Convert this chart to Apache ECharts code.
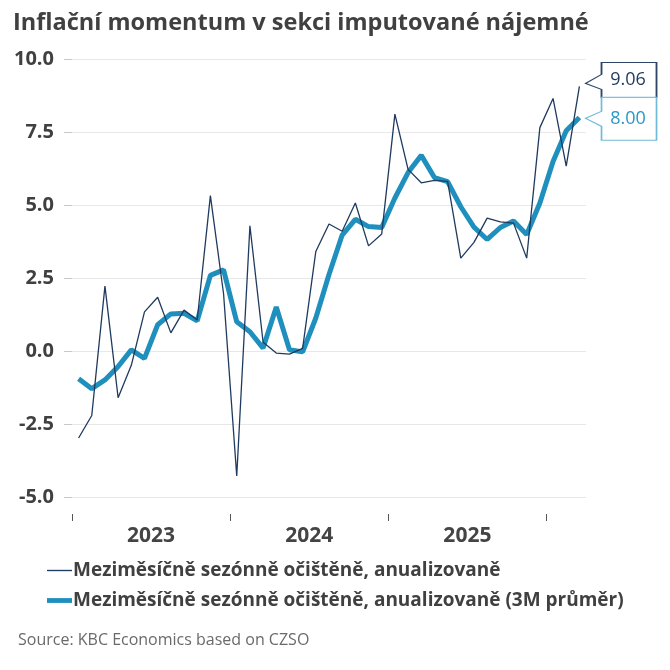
<!DOCTYPE html>
<html>
<head>
<meta charset="utf-8">
<script src="https://cdn.jsdelivr.net/npm/echarts@6/dist/echarts.min.js"></script>
<style>
  html, body { margin: 0; padding: 0; background: #fff; }
  #chart_01 { width: 670px; height: 670px; }
</style>
</head>
<body>
<div id="chart_01"></div>
<script>
// data - monthly, Jan 2023 .. Mar 2026
var months = [
    '2023-01','2023-02','2023-03','2023-04','2023-05','2023-06','2023-07','2023-08','2023-09','2023-10','2023-11','2023-12',
    '2024-01','2024-02','2024-03','2024-04','2024-05','2024-06','2024-07','2024-08','2024-09','2024-10','2024-11','2024-12',
    '2025-01','2025-02','2025-03','2025-04','2025-05','2025-06','2025-07','2025-08','2025-09','2025-10','2025-11','2025-12',
    '2026-01','2026-02','2026-03'
];
var monthly = [
    -2.98, -2.21, 2.22, -1.60, -0.49, 1.34, 1.84, 0.62, 1.40, 1.06, 5.32, 1.96,
    -4.28, 4.29, 0.30, -0.07, -0.11, 0.09, 3.41, 4.35, 4.10, 5.07, 3.60, 4.01,
    8.11, 6.22, 5.76, 5.84, 5.81, 3.18, 3.72, 4.55, 4.42, 4.38, 3.18, 7.65,
    8.65, 6.33, 9.06
];
var avg3m = [
    -0.95, -1.29, -0.99, -0.53, 0.04, -0.25, 0.90, 1.27, 1.29, 1.03, 2.59, 2.78,
    1.00, 0.66, 0.10, 1.51, 0.04, -0.03, 1.13, 2.62, 3.97, 4.51, 4.26, 4.23,
    5.24, 6.11, 6.70, 5.94, 5.80, 4.94, 4.24, 3.82, 4.23, 4.45, 3.99, 5.07,
    6.49, 7.54, 8.00
];
var yearLabels = ['2023', '2024', '2025'];
var yearStarts = [0, 12, 24, 36];

var seriesNames = [
    'Meziměsíčně sezónně očištěně, anualizovaně',
    'Meziměsíčně sezónně očištěně, anualizovaně (3M průměr)'
];

;(function (window) {

    var FONT = '"Open Sans", "Noto Sans", sans-serif';
    var NAVY = '#1f3a5f';
    var TEAL = '#1f90bd';
    var last = months.length - 1;

    var chart = echarts.init(document.getElementById('chart_01'));

    var options = {
        backgroundColor: '#fff',
        animation: false,
        title: [{
            text: 'Inflační momentum v sekci imputované nájemné',
            left: 8,
            top: 6,
            textStyle: { fontFamily: FONT, fontSize: 23.5, fontWeight: 'bold', color: '#404040' }
        }, {
            text: 'Source: KBC Economics based on CZSO',
            left: 13,
            top: 627,
            textStyle: { fontFamily: FONT, fontSize: 16, fontWeight: 'normal', color: '#6a6a6a' }
        }],
        legend: {
            orient: 'vertical',
            left: 42,
            top: 556,
            itemWidth: 25,
            itemHeight: 14,
            itemGap: 11,
            data: [
                { name: seriesNames[0], icon: 'path://M0,0L26,0L26,1.4L0,1.4Z' },
                { name: seriesNames[1], icon: 'path://M0,0L26,0L26,5L0,5Z' }
            ],
            textStyle: { fontFamily: FONT, fontSize: 19, fontWeight: 'bold', color: '#404040', padding: [0, 0, 0, -4] }
        },
        grid: { left: 72, right: 84, top: 59, bottom: 173 },
        xAxis: [{
            type: 'category',
            data: months,
            boundaryGap: true,
            axisLine: { show: false },
            axisTick: { show: false },
            axisLabel: { show: false },
            splitLine: { show: false }
        }, {
            // helper axis for year ticks and labels
            type: 'value',
            position: 'bottom',
            min: 0,
            max: months.length,
            offset: 17,
            axisLine: { show: false },
            axisTick: { show: true, customValues: yearStarts, length: 7, lineStyle: { color: '#555', width: 1 } },
            axisLabel: {
                customValues: yearStarts.slice(0, 3).map(function (v) { return v + 6; }),
                formatter: function (v) { return yearLabels[(v - 6) / 12]; },
                fontFamily: FONT, fontSize: 21, fontWeight: 'bold', color: '#444', margin: 12
            },
            splitLine: { show: false }
        }],
        yAxis: {
            type: 'value',
            min: -5,
            max: 10,
            interval: 2.5,
            axisLine: { show: false },
            axisTick: { show: true, length: 8, lineStyle: { color: '#c8c8c8' } },
            axisLabel: {
                formatter: function (v) { return v.toFixed(1); },
                fontFamily: FONT, fontSize: 20, fontWeight: 'bold', color: '#404040', margin: 18
            },
            splitLine: { lineStyle: { color: '#e8e8e8', width: 1 } }
        },
        series: [{
            name: seriesNames[0],
            type: 'line',
            data: monthly,
            symbol: 'none',
            clip: false,
            lineStyle: { color: NAVY, width: 1.3 },
            itemStyle: { color: NAVY },
            z: 3,
            markPoint: {
                symbol: 'path://M16,0L71,0L71,35L16,35L16,27L0,21L16,12Z',
                symbolSize: [71, 35],
                symbolOffset: [41.6, -6.5],
                itemStyle: { color: '#fff', borderColor: '#2e4566', borderWidth: 1.3 },
                label: {
                    show: true, position: 'inside', offset: [7, 0],
                    fontFamily: FONT, fontSize: 18, color: NAVY,
                    formatter: function (p) { return p.value.toFixed(2); }
                },
                data: [{ coord: [last, monthly[last]], value: monthly[last] }]
            }
        }, {
            name: seriesNames[1],
            type: 'line',
            data: avg3m,
            symbol: 'none',
            clip: false,
            lineStyle: { color: TEAL, width: 5 },
            itemStyle: { color: TEAL },
            z: 2,
            markPoint: {
                symbol: 'path://M16,0L71,0L71,43L16,43L16,29L0,21L16,14Z',
                symbolSize: [71, 43],
                symbolOffset: [41.6, 1.4],
                itemStyle: { color: '#fff', borderColor: '#6fb9da', borderWidth: 1.3 },
                label: {
                    show: true, position: 'inside', offset: [7, 0],
                    fontFamily: FONT, fontSize: 18, color: '#2a98c6',
                    formatter: function (p) { return p.value.toFixed(2); }
                },
                data: [{ coord: [last, avg3m[last]], value: avg3m[last] }]
            }
        }]
    };

    chart.setOption(options);

}(window));
</script>
</body>
</html>
